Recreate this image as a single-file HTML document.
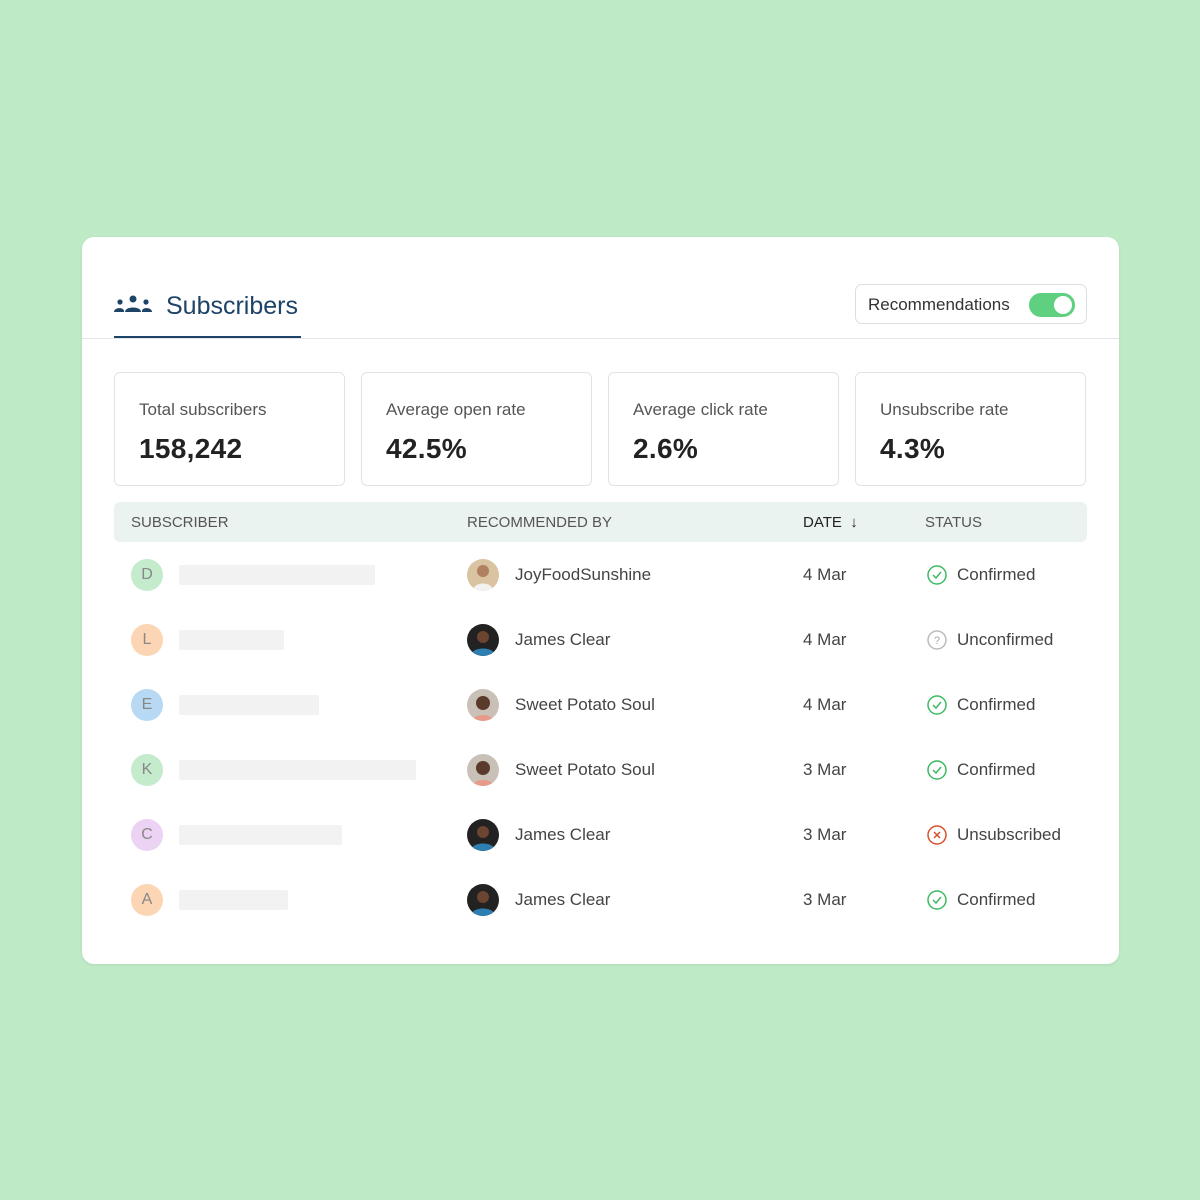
<!DOCTYPE html>
<html><head><meta charset="utf-8"><style>
*{box-sizing:border-box;margin:0;padding:0}
body{width:1200px;height:1200px;background:#bfeac6;font-family:"Liberation Sans",sans-serif;position:relative;overflow:hidden}
.card{position:absolute;left:82px;top:237px;width:1037px;height:727px;background:#fff;border-radius:12px;box-shadow:0 1px 3px rgba(0,0,0,.08)}
.abs{position:absolute}
.title{left:84px;top:55px;font-size:25px;color:#1d4366}
.uline{left:32px;top:99px;width:187px;height:2px;background:#1d4366}
.hr{left:0;top:101px;width:1037px;height:1px;background:#e3e6e8}
.toggle{left:773px;top:47px;width:232px;height:40px;border:1px solid #dcdfe2;border-radius:7px;font-size:17px;color:#333;padding:10px 12px}
.sw{position:absolute;right:11px;top:8px;width:46px;height:24px;border-radius:12px;background:#5fd07f}
.sw::after{content:"";position:absolute;right:3px;top:3px;width:18px;height:18px;border-radius:50%;background:#fff}
.stat{top:135px;width:231px;height:114px;border:1px solid #e0e3e5;border-radius:6px;padding:27px 24px}
.stat .l{font-size:17px;color:#555}
.stat .v{font-size:28px;font-weight:bold;color:#222;margin-top:13px;letter-spacing:.3px}
.thead{left:32px;top:265px;width:973px;height:40px;background:#ebf3f1;border-radius:6px;font-size:15px;color:#555}
.thead span{position:absolute;top:12px}
.row{left:0;width:1037px;height:40px;font-size:17px;color:#444}
.av{position:absolute;left:49px;top:4px;width:32px;height:32px;border-radius:50%;text-align:center;line-height:32px;font-size:16px;color:#888}
.bar{position:absolute;left:97px;top:10px;height:20px;background:#f2f2f2;border-radius:2px}
.ph{position:absolute;left:385px;top:4px;width:32px;height:32px;border-radius:50%;overflow:hidden}
.t{position:absolute;top:10px}
.ic{position:absolute;left:845px;top:10px;width:20px;height:20px}
</style></head><body>
<div class="card">
<svg class="abs" style="left:32px;top:58px" width="38" height="18" viewBox="0 0 38 18" fill="#1d4366">
<circle cx="19" cy="4" r="3.5"/><path d="M11 17c0-6 16-6 16 0z"/><circle cx="6" cy="7" r="2.6"/><path d="M0 17c0-5 10-5 10-1v1z"/><circle cx="32" cy="7" r="2.6"/><path d="M38 17c0-5-10-5-10-1v1z"/></svg>
<div class="abs title">Subscribers</div>
<div class="abs hr"></div><div class="abs uline"></div>
<div class="abs toggle">Recommendations<div class="sw"></div></div>
<div class="abs stat" style="left:32px"><div class="l">Total subscribers</div><div class="v">158,242</div></div>
<div class="abs stat" style="left:279px"><div class="l">Average open rate</div><div class="v">42.5%</div></div>
<div class="abs stat" style="left:526px"><div class="l">Average click rate</div><div class="v">2.6%</div></div>
<div class="abs stat" style="left:773px"><div class="l">Unsubscribe rate</div><div class="v">4.3%</div></div>
<div class="abs thead"><span style="left:17px">SUBSCRIBER</span><span style="left:353px">RECOMMENDED BY</span><span style="left:689px;color:#222">DATE &nbsp;↓</span><span style="left:811px">STATUS</span></div>

<div class="abs row" style="top:318px"><div class="av" style="background:#c4ebcc">D</div><div class="bar" style="width:196px"></div><svg class="ph" viewBox="0 0 32 32"><rect width="32" height="32" fill="#d9c3a0"/><circle cx="16" cy="12" r="6" fill="#b08060"/><path d="M6 32c0-10 20-10 20 0z" fill="#f2f2f2"/></svg><span class="t" style="left:433px">JoyFoodSunshine</span><span class="t" style="left:721px">4 Mar</span><svg class="ic" viewBox="0 0 20 20"><circle cx="10" cy="10" r="9" fill="none" stroke="#3dba62" stroke-width="1.5"/><path d="M6 10l3 3 5-6" fill="none" stroke="#3dba62" stroke-width="1.5"/></svg><span class="t" style="left:875px">Confirmed</span></div>

<div class="abs row" style="top:383px"><div class="av" style="background:#fcd5b4">L</div><div class="bar" style="width:105px"></div><svg class="ph" viewBox="0 0 32 32"><rect width="32" height="32" fill="#222"/><circle cx="16" cy="13" r="6" fill="#6b4530"/><path d="M4 32c0-10 24-10 24 0z" fill="#2c7fb0"/></svg><span class="t" style="left:433px">James Clear</span><span class="t" style="left:721px">4 Mar</span><svg class="ic" viewBox="0 0 20 20"><circle cx="10" cy="10" r="9" fill="none" stroke="#bbb" stroke-width="1.5"/><text x="10" y="14" font-size="11" text-anchor="middle" fill="#aaa" font-family="Liberation Sans">?</text></svg><span class="t" style="left:875px">Unconfirmed</span></div>

<div class="abs row" style="top:448px"><div class="av" style="background:#b7d9f3">E</div><div class="bar" style="width:140px"></div><svg class="ph" viewBox="0 0 32 32"><rect width="32" height="32" fill="#c9c0b8"/><circle cx="16" cy="14" r="7" fill="#5a3a2a"/><path d="M6 32c0-8 20-8 20 0z" fill="#e89a8a"/></svg><span class="t" style="left:433px">Sweet Potato Soul</span><span class="t" style="left:721px">4 Mar</span><svg class="ic" viewBox="0 0 20 20"><circle cx="10" cy="10" r="9" fill="none" stroke="#3dba62" stroke-width="1.5"/><path d="M6 10l3 3 5-6" fill="none" stroke="#3dba62" stroke-width="1.5"/></svg><span class="t" style="left:875px">Confirmed</span></div>

<div class="abs row" style="top:513px"><div class="av" style="background:#c4ebcc">K</div><div class="bar" style="width:237px"></div><svg class="ph" viewBox="0 0 32 32"><rect width="32" height="32" fill="#c9c0b8"/><circle cx="16" cy="14" r="7" fill="#5a3a2a"/><path d="M6 32c0-8 20-8 20 0z" fill="#e89a8a"/></svg><span class="t" style="left:433px">Sweet Potato Soul</span><span class="t" style="left:721px">3 Mar</span><svg class="ic" viewBox="0 0 20 20"><circle cx="10" cy="10" r="9" fill="none" stroke="#3dba62" stroke-width="1.5"/><path d="M6 10l3 3 5-6" fill="none" stroke="#3dba62" stroke-width="1.5"/></svg><span class="t" style="left:875px">Confirmed</span></div>

<div class="abs row" style="top:578px"><div class="av" style="background:#ecd2f3">C</div><div class="bar" style="width:163px"></div><svg class="ph" viewBox="0 0 32 32"><rect width="32" height="32" fill="#222"/><circle cx="16" cy="13" r="6" fill="#6b4530"/><path d="M4 32c0-10 24-10 24 0z" fill="#2c7fb0"/></svg><span class="t" style="left:433px">James Clear</span><span class="t" style="left:721px">3 Mar</span><svg class="ic" viewBox="0 0 20 20"><circle cx="10" cy="10" r="9" fill="none" stroke="#d9502e" stroke-width="1.5"/><path d="M7 7l6 6M13 7l-6 6" stroke="#d9502e" stroke-width="1.5"/></svg><span class="t" style="left:875px">Unsubscribed</span></div>

<div class="abs row" style="top:643px"><div class="av" style="background:#fcd5b4">A</div><div class="bar" style="width:109px"></div><svg class="ph" viewBox="0 0 32 32"><rect width="32" height="32" fill="#222"/><circle cx="16" cy="13" r="6" fill="#6b4530"/><path d="M4 32c0-10 24-10 24 0z" fill="#2c7fb0"/></svg><span class="t" style="left:433px">James Clear</span><span class="t" style="left:721px">3 Mar</span><svg class="ic" viewBox="0 0 20 20"><circle cx="10" cy="10" r="9" fill="none" stroke="#3dba62" stroke-width="1.5"/><path d="M6 10l3 3 5-6" fill="none" stroke="#3dba62" stroke-width="1.5"/></svg><span class="t" style="left:875px">Confirmed</span></div>
</div>
</body></html>
